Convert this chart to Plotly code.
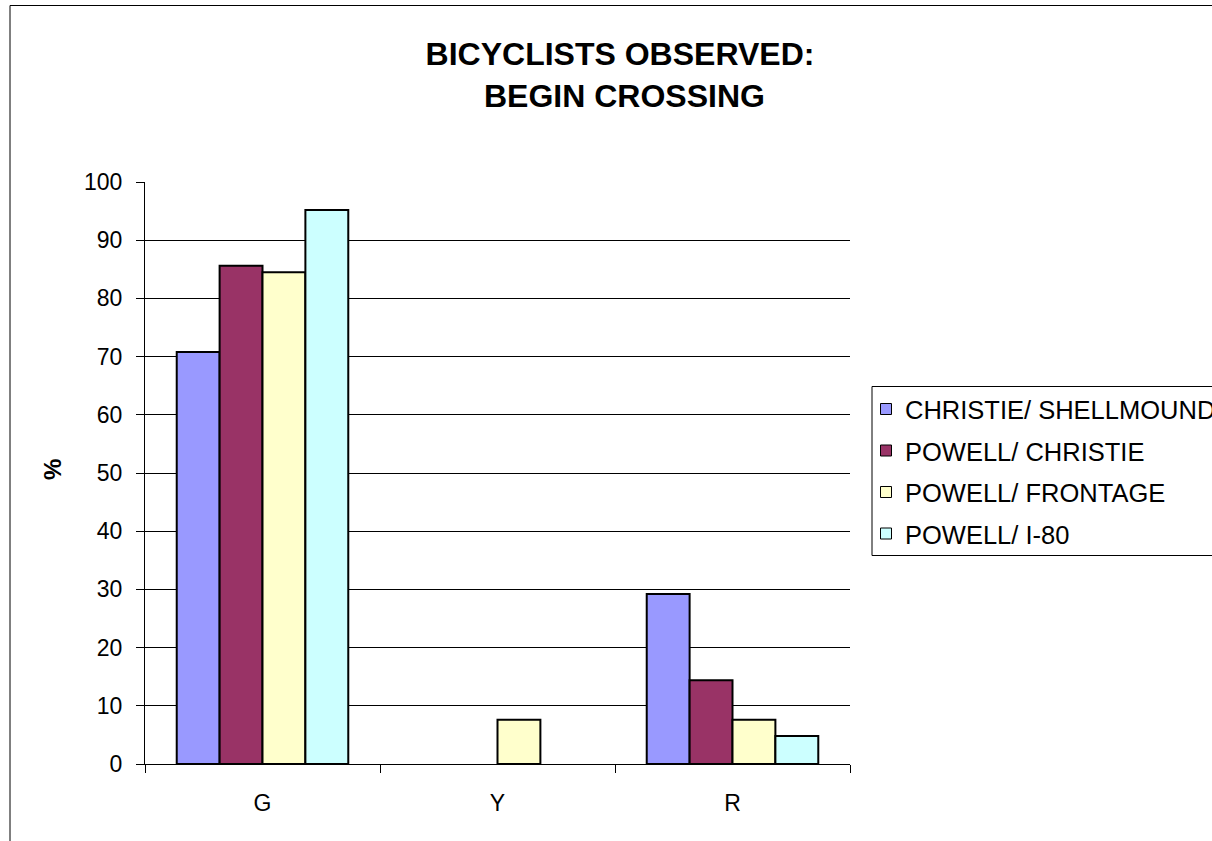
import plotly.graph_objects as go

# Signal phase at which each bicyclist began crossing
categories = ["G", "Y", "R"]
christie_shellmound = [70.8, 0, 29.2]
powell_christie = [85.6, 0, 14.4]
powell_frontage = [84.5, 7.6, 7.6]
powell_i80 = [95.2, 0, 4.8]

series = [
    ("CHRISTIE/ SHELLMOUND", christie_shellmound, "#9999FF"),
    ("POWELL/ CHRISTIE", powell_christie, "#993366"),
    ("POWELL/ FRONTAGE", powell_frontage, "#FFFFCC"),
    ("POWELL/ I-80", powell_i80, "#CCFFFF"),
]

W, H = 1212, 841
L, R, T, B = 145, 850, 182, 764  # plot area in pixels


def px_x(p):
    return (p - L) / (R - L)


def px_y(p):
    return (B - p) / (B - T)


font = "Liberation Sans, Arial, sans-serif"

fig = go.Figure()
for name, vals, color in series:
    # empty bars get no outline so nothing is drawn on the baseline
    widths = [2 if v else 0 for v in vals]
    fig.add_trace(go.Bar(
        name=name, x=categories, y=vals, showlegend=False,
        marker=dict(color=color, line=dict(color="black", width=widths)),
    ))

# Legend box drawn by hand so it can run off the right edge like the chart frame
shapes = [
    dict(type="rect", xref="paper", yref="paper", layer="below",
         x0=px_x(10), x1=px_x(1300), y0=px_y(5.5), y1=px_y(900),
         line=dict(color="black", width=1), fillcolor="rgba(0,0,0,0)"),
    dict(type="rect", xref="paper", yref="paper",
         x0=px_x(872), x1=px_x(1300), y0=px_y(386.5), y1=px_y(555.5),
         line=dict(color="black", width=1), fillcolor="white"),
]
annotations = [dict(
    text="<b>%</b>", textangle=-90, showarrow=False,
    x=px_x(52), y=px_y(470), xref="paper", yref="paper",
    xanchor="center", yanchor="middle",
    font=dict(family=font, size=24, color="black"),
)]
row_y = [409, 450.5, 492, 533.5]
for (name, _, color), yc in zip(series, row_y):
    shapes.append(dict(
        type="rect", xref="paper", yref="paper",
        x0=px_x(880.5), x1=px_x(891.5), y0=px_y(yc - 5.5), y1=px_y(yc + 5.5),
        line=dict(color="black", width=1), fillcolor=color,
    ))
    annotations.append(dict(
        text=name, showarrow=False, xref="paper", yref="paper",
        x=px_x(903), y=px_y(yc + 1), xanchor="left", yanchor="middle",
        font=dict(family=font, size=25.5, color="black"),
    ))

fig.update_layout(
    width=W, height=H,
    margin=dict(l=L, r=W - R, t=T, b=H - B, autoexpand=False),
    paper_bgcolor="white", plot_bgcolor="white",
    barmode="group", bargap=0.27, bargroupgap=0,
    showlegend=False,
    font=dict(family=font, color="black", size=23),
    title=dict(
        text="<b>BICYCLISTS OBSERVED:<br> BEGIN CROSSING</b>",
        x=620 / W, xanchor="center", xref="container",
        y=1 - 65 / H, yanchor="top", yref="container",
        font=dict(family=font, size=32, color="black"),
    ),
    xaxis=dict(
        showline=True, linecolor="black", linewidth=1,
        ticks="outside", tickson="boundaries", ticklen=8, tickcolor="black",
        showgrid=False, tickfont=dict(size=23), ticklabelstandoff=18,
    ),
    yaxis=dict(
        range=[0, 100], dtick=10,
        showline=True, linecolor="black", linewidth=1,
        ticks="outside", ticklen=8, tickcolor="black",
        showgrid=True, gridcolor="black", gridwidth=1,
        zeroline=False, tickfont=dict(size=23), ticklabelstandoff=9,
    ),
    annotations=annotations,
    shapes=shapes,
)

fig.write_html("out.html")
